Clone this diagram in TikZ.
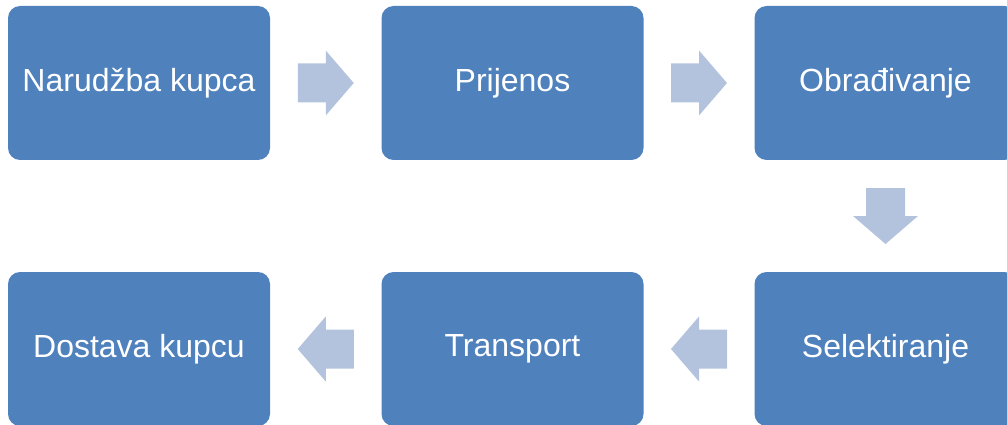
\documentclass[tikz,border=0pt]{standalone}
\usepackage{fontspec}
\setmainfont{Liberation Sans}
\begin{document}
\begin{tikzpicture}[x=1pt,y=-1pt,
  stagebox/.style={fill=boxblue, rounded corners=12pt, minimum width=262pt,
    minimum height=154pt, inner sep=0pt, text=white,
    font=\fontsize{32}{38}\selectfont},
  blockarrow/.pic={
    \fill[arrowfill] (-28,-19.5) -- (0,-19.5) -- (0,-32.5) -- (28,0)
      -- (0,32.5) -- (0,19.5) -- (-28,19.5) -- cycle;
  }]
\definecolor{boxblue}{HTML}{4F81BD}
\definecolor{arrowfill}{HTML}{B3C3DE}
\useasboundingbox (0,0) rectangle (1007,425);
\clip (0,0) rectangle (1007,425);

% process stages
\node[stagebox] (order)    at (139,83)    {Narudžba kupca};
\node[stagebox] (transfer) at (512.5,83)  {Prijenos};
\node[stagebox] (process)  at (885.5,83)  {Obrađivanje};
\node[stagebox] (select)   at (885.5,349) {Selektiranje};
\node[stagebox] (ship)     at (512.5,349) {Transport};
\node[stagebox] (deliver)  at (139,349)   {Dostava kupcu};

% block arrows between consecutive stages
\path (order.east) -- (transfer.west) coordinate[midway] (a1);
\path (transfer.east) -- (process.west) coordinate[midway] (a2);
\path (process.south) -- (select.north) coordinate[midway] (a3);
\path (select.west) -- (ship.east) coordinate[midway] (a4);
\path (ship.west) -- (deliver.east) coordinate[midway] (a5);

\pic at (a1) {blockarrow};
\pic at (a2) {blockarrow};
\pic[rotate=-90] at (a3) {blockarrow};
\pic[rotate=180] at (a4) {blockarrow};
\pic[rotate=180] at (a5) {blockarrow};
\end{tikzpicture}
\end{document}
